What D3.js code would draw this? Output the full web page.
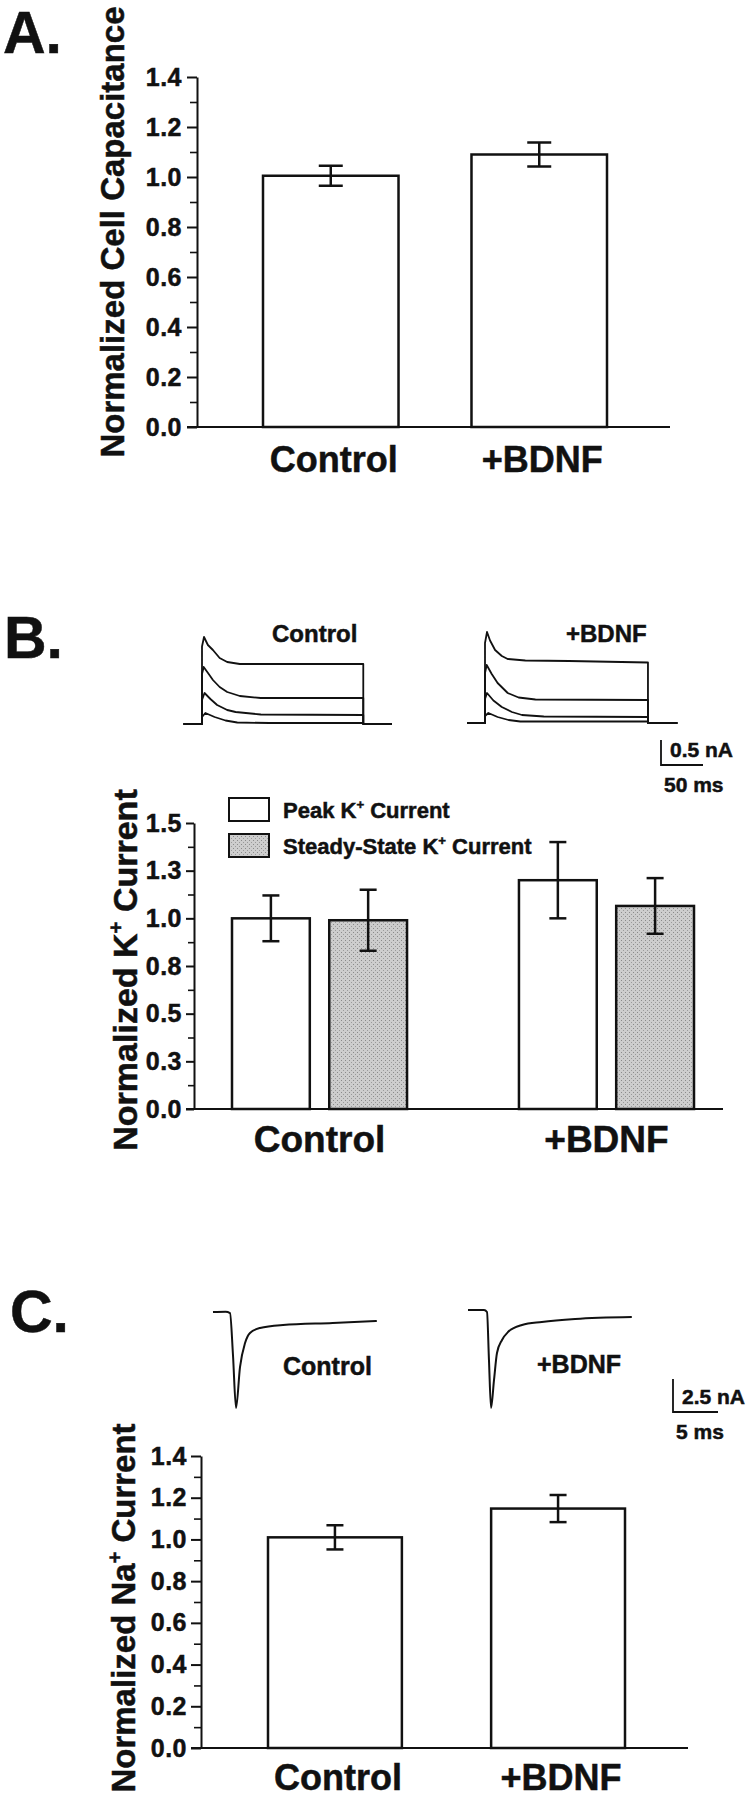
<!DOCTYPE html>
<html>
<head>
<meta charset="utf-8">
<script src="https://cdn.jsdelivr.net/npm/d3@7"></script>
<style>
body { margin:0; background:#fff; }
svg { display:block; background:#fff; }
text { font-family:"Liberation Sans", Arial, Helvetica, sans-serif; font-weight:bold; fill:#111; stroke:#111; stroke-width:0.5px; }
</style>
</head>
<body>
<svg id="fig"></svg>
<script>
// ---- values ----
var groups = ["Control", "+BDNF"];

// A. cell capacitance
var capMean = [1.005, 1.09];
var capErr = [0.04, 0.048];
var capTicks = [0, 0.2, 0.4, 0.6, 0.8, 1.0, 1.2, 1.4];
var capMinor = [0.1, 0.3, 0.5, 0.7, 0.9, 1.1, 1.3];

// B. K+ current, peak and steady state
var kSeries = ["Peak", "Steady"];
var kPeak = [1.0, 1.2];
var kPeakErr = [0.12, 0.2];
var kSteady = [0.99, 1.065];
var kSteadyErr = [0.16, 0.146];
var kTicks = [0, 0.25, 0.5, 0.75, 1.0, 1.25, 1.5];
var kTickLabels = ["0.0", "0.3", "0.5", "0.8", "1.0", "1.3", "1.5"];
var kMinor = [0.125, 0.375, 0.625, 0.875, 1.125, 1.375];

// C. Na+ current
var naMean = [1.01, 1.148];
var naErr = [0.058, 0.065];
var naTicks = [0, 0.2, 0.4, 0.6, 0.8, 1.0, 1.2, 1.4];
var naMinor = [0.1, 0.3, 0.5, 0.7, 0.9, 1.1, 1.3];

// K+ traces: [ms from step onset, nA]
var kCtl1 = [[-22,0],[0,0],[0,1.55],[2.4,1.74],[7,1.58],[13,1.48],[21,1.32],[30,1.24],[45,1.2],[100,1.2],[192,1.2],[192,0],[226,0]];
var kCtl2 = [[-22,0],[0,0],[0,1.0],[2,1.14],[8,1.0],[13,0.88],[21,0.74],[30,0.64],[45,0.56],[70,0.52],[192,0.52],[192,0],[226,0]];
var kCtl3 = [[-22,0],[0,0],[0,0.48],[3,0.62],[10,0.5],[18,0.38],[30,0.28],[40,0.24],[70,0.19],[192,0.18],[192,0],[226,0]];
var kCtl4 = [[-22,0],[0,0],[0,0.14],[4,0.22],[15,0.14],[28,0.07],[42,0.03],[80,0.02],[192,0.02],[192,0],[226,0]];
var kBd1 = [[-21,0],[0,0],[0,1.6],[2.4,1.82],[6,1.65],[12,1.46],[20,1.34],[27,1.28],[48,1.25],[100,1.24],[194,1.21],[194,0],[229,0]];
var kBd2 = [[-21,0],[0,0],[0,1.0],[2,1.16],[8,0.98],[15,0.8],[27,0.6],[40,0.51],[60,0.47],[194,0.46],[194,0],[229,0]];
var kBd3 = [[-21,0],[0,0],[0,0.48],[2.4,0.6],[10,0.45],[20,0.32],[32,0.22],[44,0.16],[70,0.13],[194,0.12],[194,0],[229,0]];
var kBd4 = [[-21,0],[0,0],[0,0.14],[4,0.2],[15,0.12],[28,0.06],[42,0.03],[194,0.03],[194,0],[229,0]];

// Na+ traces: [ms, nA]
var naCtl = [[0,0],[1.4,0.02],[1.89,-0.08],[2.22,-3.26],[2.56,-7.27],[3.0,-4.17],[3.56,-2.35],[4.11,-1.59],[5.22,-1.21],[7.78,-0.98],[13.3,-0.83],[18.2,-0.68]];
var naBd = [[0,0],[1.78,0],[2.11,-0.15],[2.33,-3.8],[2.56,-7.42],[2.89,-5.3],[3.22,-3.26],[3.78,-2.27],[4.44,-1.67],[6.0,-1.14],[8.2,-0.91],[11.9,-0.68],[18.2,-0.53]];

var svg = d3.select("#fig").attr("width", 750).attr("height", 1800);

// stipple for the steady-state bars
var pat = svg.append("defs").append("pattern")
    .attr("id", "stipple")
    .attr("width", 4).attr("height", 4)
    .attr("patternUnits", "userSpaceOnUse");
pat.append("rect").attr("width", 4).attr("height", 4).attr("fill", "#cdcdcd");
pat.append("rect").attr("x", 1).attr("y", 0).attr("width", 1).attr("height", 1).attr("fill", "#8a8a8a");
pat.append("rect").attr("x", 3).attr("y", 2).attr("width", 1).attr("height", 1).attr("fill", "#9a9a9a");

var supText = function(sel, pre, sup, post, size)
{
    sel.append("tspan").text(pre);
    sel.append("tspan").text(sup).attr("font-size", size * 0.6).attr("dy", -size * 0.4);
    sel.append("tspan").text(post).attr("dy", size * 0.4);
};

var panelLetter = function(txt, x, y)
{
    svg.append("text").attr("x", x).attr("y", y)
        .attr("font-size", 59).text(txt);
};

var yTitle = function(x, y, size, pre, sup, post)
{
    var t = svg.append("text")
        .attr("transform", "translate(" + x + "," + y + ") rotate(-90)")
        .attr("text-anchor", "middle")
        .attr("font-size", size);
    if (sup) { supText(t, pre, sup, post, size); }
    else { t.text(pre); }
};

var drawYAxis = function(p, y)
{
    var major = d3.axisLeft(y)
        .tickValues(p.ticks)
        .tickSize(p.tickSize)
        .tickSizeOuter(0)
        .tickPadding(p.tickPad)
        .tickFormat(function(d, i) { return p.labels ? p.labels[i] : d3.format(".1f")(d); });
    var gm = svg.append("g")
        .attr("transform", "translate(" + p.axisX + ",0)")
        .call(major)
        .attr("font-size", null).attr("font-family", null);
    gm.select(".domain").attr("stroke", "#111").attr("stroke-width", 2);
    gm.selectAll(".tick line").attr("stroke", "#111").attr("stroke-width", 2);
    gm.selectAll(".tick text").attr("font-size", 25).attr("letter-spacing", 0.5).attr("fill", "#111");

    var gn = svg.append("g")
        .attr("transform", "translate(" + p.axisX + ",0)")
        .call(d3.axisLeft(y).tickValues(p.minor).tickSize(p.minorSize).tickFormat(""));
    gn.select(".domain").remove();
    gn.selectAll(".tick line").attr("stroke", "#111").attr("stroke-width", 1.6);

    // baseline
    svg.append("line")
        .attr("x1", p.axisX - p.tickSize).attr("x2", p.xEnd)
        .attr("y1", y(0)).attr("y2", y(0))
        .attr("stroke", "#111").attr("stroke-width", 2);
};

var errBar = function(g, cx, top, bot, capW)
{
    g.append("line").attr("x1", cx).attr("x2", cx).attr("y1", top).attr("y2", bot);
    g.append("line").attr("x1", cx - capW / 2).attr("x2", cx + capW / 2).attr("y1", top).attr("y2", top);
    g.append("line").attr("x1", cx - capW / 2).attr("x2", cx + capW / 2).attr("y1", bot).attr("y2", bot);
};

// single-series bar panel (A and C)
var drawSimplePanel = function(p)
{
    var x = d3.scaleBand().domain(groups).range(p.xRange).paddingInner(p.pad).paddingOuter(0);
    var y = d3.scaleLinear().domain(p.yDomain).range(p.yRange);

    drawYAxis(p, y);

    var g = svg.append("g");
    var rows = groups.map(function(c, i) { return {cat:c, v:p.mean[i], e:p.err[i]}; });

    g.selectAll("rect")
        .data(rows)
        .enter()
        .append("rect")
        .attr("x", function(d) { return x(d.cat); })
        .attr("y", function(d) { return y(d.v); })
        .attr("width", x.bandwidth())
        .attr("height", function(d) { return y(0) - y(d.v); })
        .attr("fill", "#fff")
        .attr("stroke", "#111")
        .attr("stroke-width", 2.5);

    var eg = g.append("g").attr("stroke", "#111").attr("stroke-width", 2.5);
    rows.forEach(function(d)
    {
        errBar(eg, x(d.cat) + x.bandwidth() / 2, y(d.v + d.e), y(d.v - d.e), p.capW);
    });

    g.selectAll(".xlab")
        .data(rows)
        .enter()
        .append("text")
        .attr("x", function(d) { return x(d.cat) + x.bandwidth() / 2 + 3; })
        .attr("y", p.labelY)
        .attr("text-anchor", "middle")
        .attr("font-size", p.labelSize)
        .text(function(d) { return d.cat; });
};

var traceLine = function(tx, ty, curve)
{
    return d3.line()
        .x(function(d) { return tx(d[0]); })
        .y(function(d) { return ty(d[1]); })
        .curve(curve);
};

// L-shaped calibration bar, vertical arm always drawn upward
var scaleBar = function(x0, y0, tx, ty, amp, dur, ampTxt, durTxt)
{
    var g = svg.append("g").attr("transform", "translate(" + x0 + "," + y0 + ")");
    var h = Math.abs(ty(amp) - ty(0));
    g.append("path")
        .attr("d", "M0," + (-h) + "V0H" + (tx(dur) - tx(0)))
        .attr("fill", "none").attr("stroke", "#111").attr("stroke-width", 1.8);
    g.append("text").attr("x", 9).attr("y", -8).attr("font-size", 21).text(ampTxt);
    g.append("text").attr("x", 3).attr("y", 27).attr("font-size", 21).text(durTxt);
};

// ================= A =================
panelLetter("A.", 3, 53);
yTitle(124, 232, 33, "Normalized Cell Capacitance");
drawSimplePanel({
    mean:capMean, err:capErr, ticks:capTicks, minor:capMinor,
    xRange:[263, 607], pad:0.35, yDomain:[0, 1.4], yRange:[427, 77],
    axisX:197, tickSize:10, minorSize:7, tickPad:5, xEnd:670,
    capW:24, labelY:472, labelSize:36
});

// ================= B =================
panelLetter("B.", 4, 658);

var kTime = d3.scaleLinear().domain([0, 50]).range([0, 42]);
var kAmp = d3.scaleLinear().domain([0, 0.5]).range([0, -25]);
var kLine = traceLine(kTime, kAmp, d3.curveLinear);

var kTraces = [
    {x0:202, y0:724, sets:[kCtl1, kCtl2, kCtl3, kCtl4]},
    {x0:485, y0:723, sets:[kBd1, kBd2, kBd3, kBd4]}
];
kTraces.forEach(function(t)
{
    svg.append("g")
        .attr("transform", "translate(" + t.x0 + "," + t.y0 + ")")
        .selectAll("path")
        .data(t.sets)
        .enter()
        .append("path")
        .attr("d", kLine)
        .attr("fill", "none")
        .attr("stroke", "#111")
        .attr("stroke-width", 1.8)
        .attr("stroke-linejoin", "round");
});
svg.append("text").attr("x", 272).attr("y", 642).attr("font-size", 24).text("Control");
svg.append("text").attr("x", 566).attr("y", 642).attr("font-size", 24).text("+BDNF");
scaleBar(661, 765, kTime, kAmp, 0.5, 50, "0.5 nA", "50 ms");

yTitle(137, 970, 34, "Normalized K", "+", " Current");

var kx0 = d3.scaleBand().domain(groups).range([232, 694]).paddingInner(0.39).paddingOuter(0);
var kx1 = d3.scaleBand().domain(kSeries).range([0, kx0.bandwidth()]).paddingInner(0.2);
var ky = d3.scaleLinear().domain([0, 1.5]).range([1109, 823]);

drawYAxis({ticks:kTicks, labels:kTickLabels, minor:kMinor, axisX:194, tickSize:8, minorSize:6, tickPad:4, xEnd:723}, ky);

var kRows = [];
groups.forEach(function(c, i)
{
    kRows.push({cat:c, s:"Peak", v:kPeak[i], e:kPeakErr[i]});
    kRows.push({cat:c, s:"Steady", v:kSteady[i], e:kSteadyErr[i]});
});

var kg = svg.append("g");
kg.selectAll("rect")
    .data(kRows)
    .enter()
    .append("rect")
    .attr("x", function(d) { return kx0(d.cat) + kx1(d.s); })
    .attr("y", function(d) { return ky(d.v); })
    .attr("width", kx1.bandwidth())
    .attr("height", function(d) { return ky(0) - ky(d.v); })
    .attr("fill", function(d) { return d.s == "Peak" ? "#fff" : "url(#stipple)"; })
    .attr("stroke", "#111")
    .attr("stroke-width", 2.5);

var keg = kg.append("g").attr("stroke", "#111").attr("stroke-width", 2.5);
kRows.forEach(function(d)
{
    errBar(keg, kx0(d.cat) + kx1(d.s) + kx1.bandwidth() / 2, ky(d.v + d.e), ky(d.v - d.e), 17);
});

kg.selectAll(".xlab")
    .data(groups)
    .enter()
    .append("text")
    .attr("x", function(d) { return kx0(d) + kx0.bandwidth() / 2; })
    .attr("y", 1152)
    .attr("text-anchor", "middle")
    .attr("font-size", 37)
    .text(function(d) { return d; });

// legend
var legend = svg.append("g");
var legItems = [
    {fill:"#fff", pre:"Peak K", post:" Current", y:798},
    {fill:"url(#stipple)", pre:"Steady-State K", post:" Current", y:834}
];
legItems.forEach(function(it)
{
    legend.append("rect")
        .attr("x", 229).attr("y", it.y).attr("width", 40).attr("height", 23)
        .attr("fill", it.fill).attr("stroke", "#111").attr("stroke-width", 2);
    var t = legend.append("text").attr("x", 283).attr("y", it.y + 20).attr("font-size", 22);
    supText(t, it.pre, "+", it.post, 22);
});

// ================= C =================
panelLetter("C.", 10, 1332);

var naTime = d3.scaleLinear().domain([0, 5]).range([0, 45]);
var naAmp = d3.scaleLinear().domain([0, -2.5]).range([0, 33]);
var naLine = traceLine(naTime, naAmp, d3.curveMonotoneX);

[{x0:213, y0:1312, d:naCtl}, {x0:468, y0:1310, d:naBd}].forEach(function(t)
{
    svg.append("path")
        .attr("transform", "translate(" + t.x0 + "," + t.y0 + ")")
        .attr("d", naLine(t.d))
        .attr("fill", "none")
        .attr("stroke", "#111")
        .attr("stroke-width", 2)
        .attr("stroke-linejoin", "round");
});
svg.append("text").attr("x", 283).attr("y", 1375).attr("font-size", 25).text("Control");
svg.append("text").attr("x", 537).attr("y", 1373).attr("font-size", 25).text("+BDNF");
scaleBar(673, 1412, naTime, naAmp, -2.5, 5, "2.5 nA", "5 ms");

yTitle(135, 1608, 33, "Normalized Na", "+", " Current");
drawSimplePanel({
    mean:naMean, err:naErr, ticks:naTicks, minor:naMinor,
    xRange:[268, 625], pad:0.4, yDomain:[0, 1.4], yRange:[1748, 1456],
    axisX:201, tickSize:10, minorSize:7, tickPad:4, xEnd:688,
    capW:17, labelY:1790, labelSize:36
});
</script>
</body>
</html>
